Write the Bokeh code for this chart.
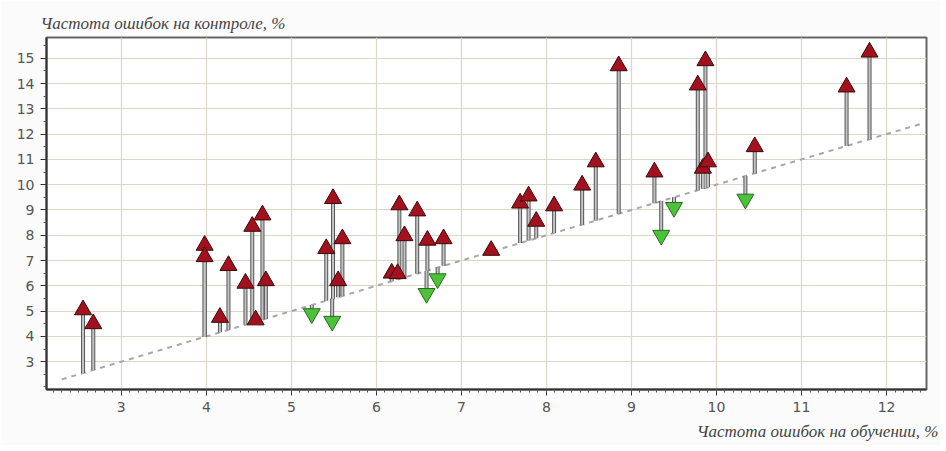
from bokeh.plotting import figure
from bokeh.models import ColumnDataSource, Title, Range1d, SingleIntervalTicker, FixedTicker
from bokeh.embed import file_html
from bokeh.resources import INLINE

train = [2.55, 2.67, 3.98, 3.98, 4.16, 4.26, 4.46, 4.54, 4.58, 4.66, 4.70, 5.24, 5.41, 5.48, 5.49, 5.55, 5.60,
         6.18, 6.25, 6.27, 6.33, 6.48, 6.60, 6.59, 6.72, 6.79, 7.35, 7.69, 7.79, 7.88, 8.09, 8.42, 8.58, 8.85,
         9.27, 9.35, 9.50, 9.78, 9.87, 9.84, 9.90, 10.34, 10.45, 11.53, 11.80]
test = [5.05, 4.50, 7.60, 7.15, 4.75, 6.80, 6.10, 8.35, 4.65, 8.80, 6.20, 4.90, 7.47, 4.60, 9.45, 6.20, 7.86,
        6.50, 6.48, 9.20, 7.98, 8.96, 7.80, 5.70, 6.28, 7.86, 7.40, 9.27, 9.55, 8.55, 9.16, 9.98, 10.90, 14.70,
        10.50, 8.00, 9.10, 13.94, 14.90, 10.65, 10.90, 9.43, 11.50, 13.86, 15.24]
diag = [2.3, 12.4]
y_ticks = [3, 4, 5, 6, 7, 8, 9, 10, 11, 12, 13, 14, 15]
y_minor = [2.0, 2.5, 3.5, 4.5, 5.5, 6.5, 7.5, 8.5, 9.5, 10.5, 11.5, 12.5, 13.5, 14.5, 15.5]
x_label = "Частота ошибок на обучении, %"
y_label = "Частота ошибок на контроле, %"

up = [i for i in range(len(train)) if test[i] >= train[i]]
down = [i for i in range(len(train)) if test[i] < train[i]]
src_up = ColumnDataSource(dict(x=[train[i] for i in up], y=[test[i] for i in up]))
src_dn = ColumnDataSource(dict(x=[train[i] for i in down], y=[test[i] for i in down]))
src_all = ColumnDataSource(dict(x=train, y=test))

p = figure(width=940, height=445, output_backend="svg", toolbar_location=None,
           x_range=Range1d(2.12, 12.47), y_range=Range1d(1.9, 15.82),
           min_border_left=46, min_border_right=14, min_border_top=37, min_border_bottom=53)
p.background_fill_color = "white"
p.border_fill_color = "#fbfbfb"
p.outline_line_color = "#666666"
p.outline_line_width = 2

t = Title(text=y_label, align="left", offset=-6, text_font="Liberation Serif", text_font_style="italic",
          text_font_size="17px", text_color="#444444")
p.add_layout(t, "above")
b = Title(text=x_label, align="right", offset=-12, text_font="Liberation Serif", text_font_style="italic",
          text_font_size="17px", text_color="#444444")
p.add_layout(b, "below")

p.xaxis.ticker = SingleIntervalTicker(interval=1, num_minor_ticks=10)
p.yaxis.ticker = FixedTicker(ticks=y_ticks, minor_ticks=y_minor)
for ax in (p.xaxis, p.yaxis):
    ax.major_label_text_font = "DejaVu Sans"
    ax.major_label_text_font_size = "14px"
    ax.major_label_text_color = "#555555"
    ax.axis_line_color = "#333333"
    ax.axis_line_width = 2
    ax.major_tick_line_color = "#333333"
    ax.minor_tick_line_color = "#555555"
    ax.major_tick_out = 6
    ax.major_tick_in = 0
    ax.minor_tick_out = 3
    ax.minor_tick_in = 0
p.xaxis.major_label_standoff = 6
p.yaxis.major_label_standoff = 6

p.grid.grid_line_color = "#dad7c6"
p.grid.grid_line_width = 1.2

p.line(diag, diag, line_color="#a8a8a8", line_width=2, line_dash="5 5")
p.segment(x0="x", y0="x", x1="x", y1="y", source=src_all, line_color="#555555", line_width=4)
p.segment(x0="x", y0="x", x1="x", y1="y", source=src_all, line_color="#c4c4c4", line_width=2)
p.scatter("x", "y", source=src_up, marker="triangle", size=17, fill_color="#a3101e",
          line_color="#3a0a0a", line_width=1)
p.scatter("x", "y", source=src_dn, marker="inverted_triangle", size=17, fill_color="#4cc23a",
          line_color="#2a6a22", line_width=1)

open("out.html", "w").write(file_html(p, INLINE))
